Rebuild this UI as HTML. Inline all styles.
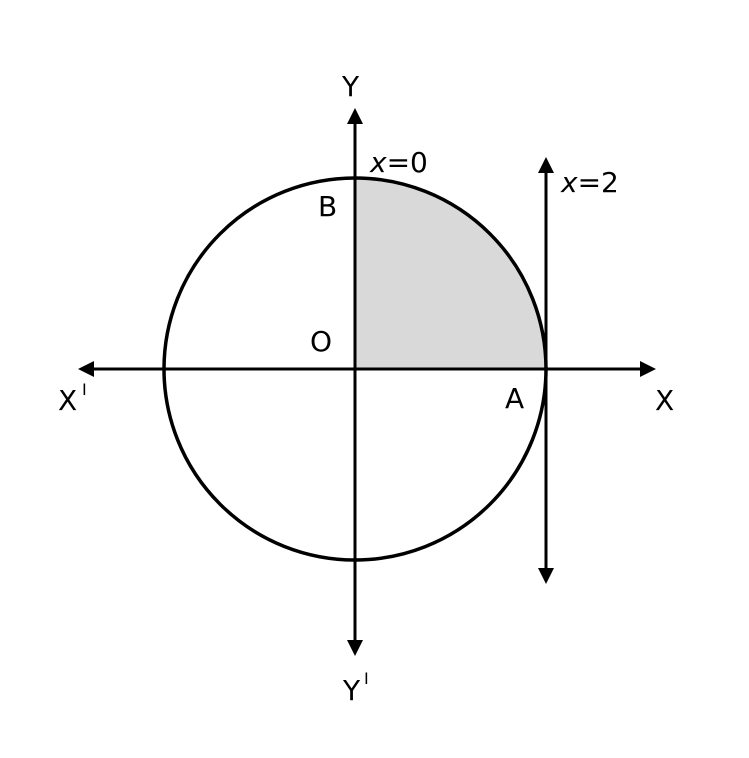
<!DOCTYPE html>
<html><head><style>html,body{margin:0;padding:0;background:#fff}</style></head>
<body>
<svg width="749" height="753" viewBox="0 0 749 753" xmlns="http://www.w3.org/2000/svg" font-family="DejaVu Sans, sans-serif" font-size="28">
<rect width="749" height="753" fill="#fff"/>
<path d="M355,369 L355,178 A191,191 0 0 1 546,369 Z" fill="#d9d9d9"/>
<circle cx="355" cy="369" r="191" fill="none" stroke="#000" stroke-width="3.5"/>
<g stroke="#000" stroke-width="3">
<line x1="92" y1="369" x2="642" y2="369"/>
<line x1="355" y1="124" x2="355" y2="642"/>
<line x1="546" y1="172" x2="546" y2="572"/>
</g>
<g fill="#000">
<polygon points="78,369 94,361 94,377"/>
<polygon points="656,369 640,361 640,377"/>
<polygon points="355,108 347,124 363,124"/>
<polygon points="355,656 347,640 363,640"/>
<polygon points="546,157 538,173 554,173"/>
<polygon points="546,584 538,568 554,568"/>
</g>
<text x="342" y="96">Y</text>
<text x="370" y="172"><tspan font-style="italic">x</tspan>=0</text>
<text x="561" y="192"><tspan font-style="italic">x</tspan>=2</text>
<text x="318" y="216">B</text>
<text x="310" y="351">O</text>
<text x="505" y="408">A</text>
<text x="655" y="410">X</text>
<text x="58" y="410">X</text>
<text x="82" y="395" font-size="16">I</text>
<text x="343" y="700">Y</text>
<text x="364" y="684" font-size="16">I</text>
</svg>
</body></html>
